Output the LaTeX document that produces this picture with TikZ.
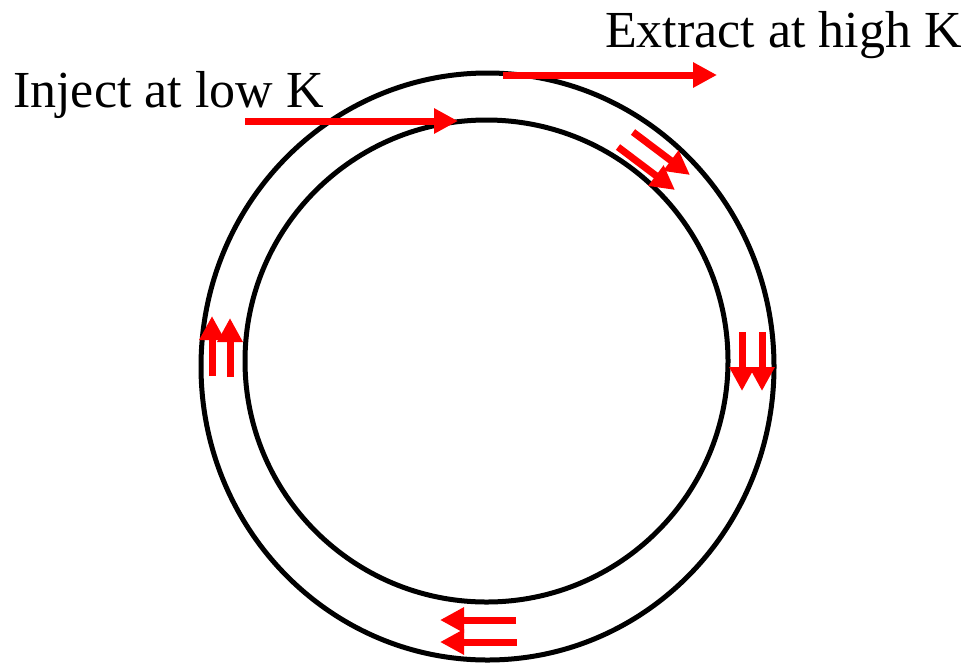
\documentclass[tikz,border=0pt]{standalone}
\usepackage{fontspec}
\setmainfont{Liberation Serif}
\usepackage{tikz}
\usetikzlibrary{positioning, arrows.meta}
\definecolor{flowred}{RGB}{255, 0, 0}

\begin{document}
\begin{tikzpicture}[x=1pt, y=-1pt, >={Triangle[length=24pt, width=24pt]},
    ring/.style={draw=black, line width=5pt},
    flow/.style={->, flowred, line width=7pt},
    label/.style={inner sep=0pt, anchor=base west, font=\fontsize{52}{60}\selectfont}]
    \useasboundingbox (0,0) rectangle (976,665);

    % Rings
    \draw[ring] (487.5,366.5) ellipse [x radius=286.5, y radius=293.5];
    \draw[ring] (486.5,361) ellipse [x radius=241.5, y radius=241];

    % Labels
    \node (inject) [label] at (13,107) {Inject at low K};
    \node (extract) [label] at (605,47) {Extract at high K};

    % Points
    \coordinate (in0) at (245,121);
    \coordinate (in1) at (458,121);
    \coordinate (out0) at (503,75);
    \coordinate (out1) at (717,75);
    \coordinate (tr0) at (633,132);  \coordinate (tr1) at (690,175);
    \coordinate (tr2) at (618,147);  \coordinate (tr3) at (675,190);
    \coordinate (rt0) at (742,332);  \coordinate (rt1) at (742,391);
    \coordinate (rt2) at (762,332);  \coordinate (rt3) at (762,391);
    \coordinate (bt0) at (516,620);  \coordinate (bt1) at (440,620);
    \coordinate (bt2) at (517,642);  \coordinate (bt3) at (440,642);
    \coordinate (lf0) at (212,376);  \coordinate (lf1) at (212,316);
    \coordinate (lf2) at (230,377);  \coordinate (lf3) at (230,318);

    % Arrows
    \draw[flow] (in0) -- (in1);
    \draw[flow] (out0) -- (out1);
    \draw[flow] (tr0) -- (tr1);
    \draw[flow] (tr2) -- (tr3);
    \draw[flow] (rt0) -- (rt1);
    \draw[flow] (rt2) -- (rt3);
    \draw[flow] (bt0) -- (bt1);
    \draw[flow] (bt2) -- (bt3);
    \draw[flow] (lf0) -- (lf1);
    \draw[flow] (lf2) -- (lf3);
\end{tikzpicture}
\end{document}
